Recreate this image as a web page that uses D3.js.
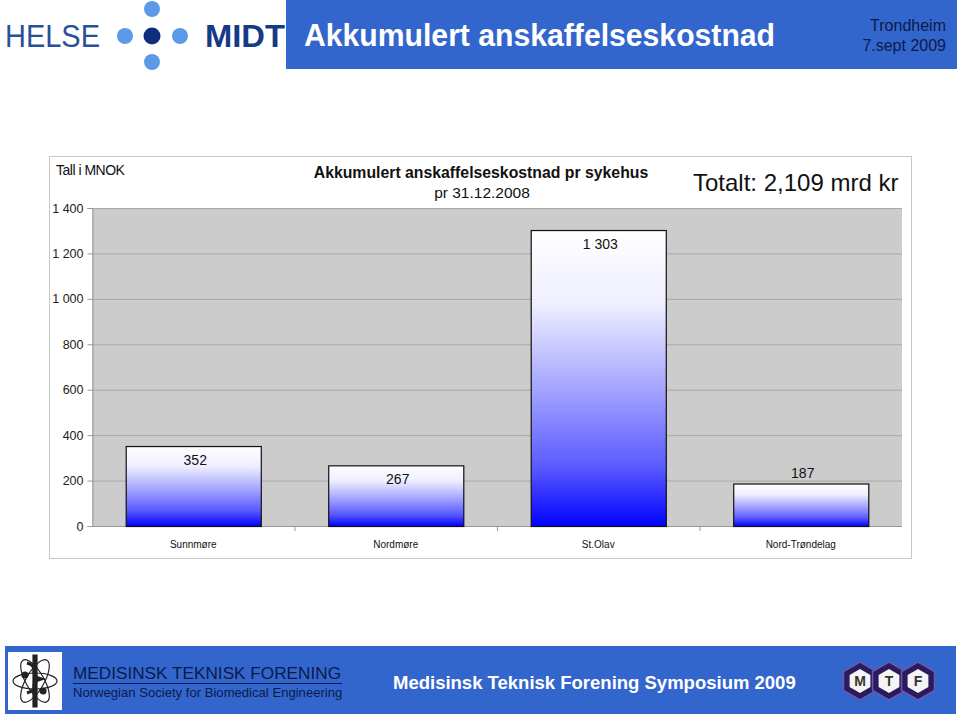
<!DOCTYPE html>
<html><head><meta charset="utf-8">
<script src="https://cdn.jsdelivr.net/npm/d3@7"></script>
<style>body{margin:0;background:#fff;font-family:"Liberation Sans",Arial,sans-serif}</style>
</head><body>
<svg id="c" width="960" height="716" font-family="Liberation Sans, Arial, sans-serif"></svg>
<script>
const categories = ["Sunnmøre", "Nordmøre", "St.Olav", "Nord-Trøndelag"];
const values = [352, 267, 1303, 187];
const valueLabels = ["352", "267", "1 303", "187"];
const yTicks = [0, 200, 400, 600, 800, 1000, 1200, 1400];
const yTickLabels = ["0", "200", "400", "600", "800", "1 000", "1 200", "1 400"];

const svg = d3.select("#c");
const fmt = v => yTickLabels[yTicks.indexOf(v)];

// ---------- header ----------
const defs = svg.append("defs");
const g = defs.append("linearGradient").attr("id","barg").attr("x1",0).attr("y1",0).attr("x2",0).attr("y2",1);
[[0,"#ffffff"],[0.25,"#eeeeff"],[0.55,"#a0a0ff"],[0.8,"#5a5aff"],[1,"#0000ff"]].forEach(s=>g.append("stop").attr("offset",s[0]).attr("stop-color",s[1]));

svg.append("rect").attr("x",286).attr("y",0).attr("width",671).attr("height",69).attr("fill","#3366cc");
svg.append("text").attr("x",304).attr("y",46).attr("fill","#fff").attr("font-size",30.5).attr("font-weight","bold").attr("textLength",471).attr("lengthAdjust","spacingAndGlyphs").text("Akkumulert anskaffelseskostnad");
svg.append("text").attr("x",946).attr("y",31).attr("text-anchor","end").attr("fill","#0c1a4a").attr("font-size",16).text("Trondheim");
svg.append("text").attr("x",946).attr("y",51).attr("text-anchor","end").attr("fill","#0c1a4a").attr("font-size",16).text("7.sept 2009");

// HELSE MIDT logo
svg.append("text").attr("x",5).attr("y",47).attr("fill","#2a4f9a").attr("font-size",31).attr("textLength",95).attr("lengthAdjust","spacingAndGlyphs").text("HELSE");
[[125,36],[180,36],[152,9],[152,62]].forEach(p=>svg.append("circle").attr("cx",p[0]).attr("cy",p[1]).attr("r",8).attr("fill","#5c9ae8"));
svg.append("circle").attr("cx",152).attr("cy",36).attr("r",8.5).attr("fill","#0d2f7e");
svg.append("text").attr("x",205).attr("y",47).attr("fill","#153a86").attr("font-size",31).attr("font-weight","bold").attr("textLength",80).attr("lengthAdjust","spacingAndGlyphs").text("MIDT");

// ---------- chart frame ----------
svg.append("rect").attr("x",49.5).attr("y",156.5).attr("width",862).attr("height",402).attr("fill","#fff").attr("stroke","#c8c8c8");

const m = {l:92, r:902, t:208, b:526};
const x = d3.scaleBand().domain(categories).range([m.l,m.r]).paddingInner(0.333).paddingOuter(0.1665);
const y = d3.scaleLinear().domain([0,1400]).range([m.b,m.t]);

svg.append("rect").attr("x",m.l).attr("y",m.t).attr("width",m.r-m.l).attr("height",m.b-m.t).attr("fill","#cccccc");
svg.append("g").selectAll("line").data(yTicks.filter(d=>d>0)).join("line")
  .attr("x1",m.l).attr("x2",m.r).attr("y1",d=>y(d)+0.5).attr("y2",d=>y(d)+0.5).attr("stroke","#a8a8a8");

// y axis
const ya = svg.append("g").attr("transform",`translate(${m.l+0.5},0)`)
  .call(d3.axisLeft(y).tickValues(yTicks).tickFormat(fmt).tickSize(5).tickPadding(4));
ya.select(".domain").attr("stroke","#999");
ya.selectAll(".tick line").attr("stroke","#999");
ya.selectAll("text").attr("font-size",12.5).attr("fill","#222").attr("font-family","Liberation Sans, Arial, sans-serif");

// x axis baseline + category ticks
svg.append("line").attr("x1",m.l).attr("x2",m.r).attr("y1",m.b+0.5).attr("y2",m.b+0.5).attr("stroke","#999");
svg.append("g").selectAll("line").data(d3.range(1,categories.length)).join("line")
  .attr("x1",d=>m.l+d*x.step()+0.5)
  .attr("x2",d=>m.l+d*x.step()+0.5)
  .attr("y1",m.b).attr("y2",m.b+5).attr("stroke","#999");
svg.append("g").selectAll("text").data(categories).join("text")
  .attr("x",d=>x(d)+x.bandwidth()/2).attr("y",548).attr("text-anchor","middle")
  .attr("font-size",10).attr("fill","#111").text(d=>d);

// bars
svg.append("g").selectAll("rect").data(values).join("rect")
  .attr("x",(d,i)=>x(categories[i])+0.5).attr("y",d=>y(d)+0.5)
  .attr("width",x.bandwidth()).attr("height",d=>m.b-y(d))
  .attr("fill","url(#barg)").attr("stroke","#111").attr("stroke-width",1.2);

svg.append("g").selectAll("text").data(values).join("text")
  .attr("x",(d,i)=>x(categories[i])+x.bandwidth()/2+2)
  .attr("y",d=> d>200 ? y(d)+19 : y(d)-6)
  .attr("text-anchor","middle").attr("font-size",14).attr("fill","#111")
  .text((d,i)=>valueLabels[i]);

// titles
svg.append("text").attr("x",481).attr("y",178).attr("text-anchor","middle").attr("font-size",15.8).attr("font-weight","bold").attr("fill","#111").text("Akkumulert anskaffelseskostnad pr sykehus");
svg.append("text").attr("x",482).attr("y",198).attr("text-anchor","middle").attr("font-size",15.5).attr("fill","#111").text("pr 31.12.2008");
svg.append("text").attr("x",693).attr("y",191).attr("font-size",24).attr("fill","#111").text("Totalt: 2,109 mrd kr");
svg.append("text").attr("x",56).attr("y",175).attr("font-size",14).attr("fill","#111").attr("letter-spacing",-0.5).text("Tall i MNOK");

// ---------- footer ----------
svg.append("rect").attr("x",5).attr("y",646).attr("width",951).attr("height",68).attr("fill","#3366cc");
svg.append("rect").attr("x",8).attr("y",652).attr("width",54).attr("height",58).attr("fill","#fff");
const atom = svg.append("g").attr("transform","translate(35,681)").attr("fill","none").attr("stroke","#222").attr("stroke-width",1.2);
atom.append("ellipse").attr("rx",24).attr("ry",9).attr("transform","rotate(60)");
atom.append("ellipse").attr("rx",24).attr("ry",9).attr("transform","rotate(-60)");
atom.append("ellipse").attr("rx",22).attr("ry",8);
atom.append("path").attr("d","M-2,-26 L2,-26 L2,26 L-2,26 Z").attr("fill","#222");
atom.append("path").attr("d","M-8,-18 C6,-14 -8,-6 6,-2 C-8,2 6,8 -8,12").attr("stroke-width",3);
atom.append("circle").attr("cx",-10).attr("cy",-6).attr("r",3).attr("fill","#222");
atom.append("circle").attr("cx",8).attr("cy",10).attr("r",3).attr("fill","#222");

svg.append("text").attr("x",73).attr("y",679).attr("font-size",17.2).attr("fill","#0c1a4a").text("MEDISINSK TEKNISK FORENING");
svg.append("line").attr("x1",73).attr("x2",342).attr("y1",683.5).attr("y2",683.5).attr("stroke","#0c1a4a");
svg.append("text").attr("x",73).attr("y",697).attr("font-size",13.1).attr("fill","#0c1a4a").text("Norwegian Society for Biomedical Engineering");
svg.append("text").attr("x",393).attr("y",689).attr("font-size",18.5).attr("font-weight","bold").attr("fill","#fff").text("Medisinsk Teknisk Forening Symposium 2009");

// MTF hexagons
const hex = (cx,cy,r)=>d3.range(6).map(k=>{const a=Math.PI/3*k+Math.PI/6;return [cx+r*Math.cos(a),cy+r*Math.sin(a)];});
["M","T","F"].forEach((ch,i)=>{
  const cx=860+i*29, cy=681;
  svg.append("polygon").attr("points",hex(cx,cy,19).join(" ")).attr("fill","#2a1a5e").attr("stroke","#6a5aaa").attr("stroke-width",1.5);
  svg.append("polygon").attr("points",hex(cx,cy,12).join(" ")).attr("fill","#f4f4f4");
  svg.append("text").attr("x",cx).attr("y",cy+5).attr("text-anchor","middle").attr("font-size",14).attr("font-weight","bold").attr("fill","#333").text(ch);
});
</script></body></html>
